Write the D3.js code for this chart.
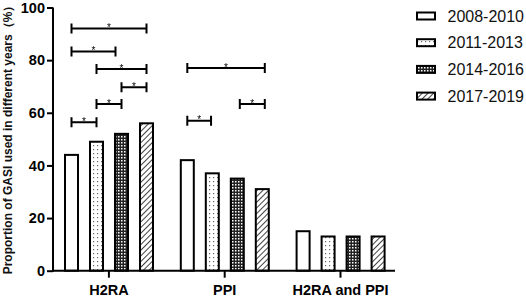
<!DOCTYPE html>
<html><head><meta charset="utf-8">
<script src="https://cdn.jsdelivr.net/npm/d3@7/dist/d3.min.js"></script>
<style>
html,body{margin:0;padding:0;background:#fff;}
svg{display:block;font-family:Arial,"Liberation Sans",sans-serif;}
.gray{filter:grayscale(1);}
</style></head>
<body><svg id="c" width="526" height="298"></svg>
<script>
const groups = ["H2RA", "PPI", "H2RA and PPI"];
const series = ["2008-2010", "2011-2013", "2014-2016", "2017-2019"];
const v2008 = [44, 42, 15];
const v2011 = [49, 37, 13];
const v2014 = [52, 35, 13];
const v2017 = [56, 31, 13];
const yTicks = [0, 20, 40, 60, 80, 100];
const yLabel = "Proportion of GASI used in different years（%）";
// significance brackets: group, from bar index, to bar index, height (value units)
const brGroup = ["H2RA","H2RA","H2RA","H2RA","H2RA","H2RA","PPI","PPI","PPI"];
const brFrom  = [0, 0, 1, 2, 1, 0, 0, 2.1, 0];
const brTo    = [3, 1.76, 3, 3, 2, 1, 3.1, 3.1, 0.95];
const brY     = [92, 83.3, 76.6, 69.7, 63.3, 56.4, 77, 63.3, 57];

const values = [v2008, v2011, v2014, v2017];
const svg = d3.select("#c");
const defs = svg.append("defs");
// patterns
const pDot = defs.append("pattern").attr("id","p1").attr("patternUnits","userSpaceOnUse").attr("width",4).attr("height",4);
pDot.append("rect").attr("width",4).attr("height",4).attr("fill","#fff");
pDot.append("rect").attr("x",1).attr("y",1).attr("width",1.2).attr("height",1.2).attr("fill","#666");
const pChk = defs.append("pattern").attr("id","p2").attr("patternUnits","userSpaceOnUse").attr("width",3).attr("height",3);
pChk.append("rect").attr("width",3).attr("height",3).attr("fill","#222");
pChk.append("rect").attr("x",1).attr("y",1).attr("width",1.5).attr("height",1.5).attr("fill","#fff");
const pHat = defs.append("pattern").attr("id","p3").attr("patternUnits","userSpaceOnUse").attr("width",4).attr("height",4).attr("patternTransform","rotate(45)");
pHat.append("rect").attr("width",4).attr("height",4).attr("fill","#fff");
pHat.append("line").attr("x1",0).attr("y1",0).attr("x2",0).attr("y2",4).attr("stroke","#111").attr("stroke-width",1.6);
const fills = ["#fff","url(#p1)","url(#p2)","url(#p3)"];

const y = d3.scaleLinear().domain([0,100]).range([270.7, 7.5]);
const x0 = d3.scaleBand().domain(groups).range([51, 398.4]);
const x1 = d3.scaleBand().domain(series).range([14, 102]).paddingInner(0.48);
const axisX = 53;

// bars
const data = [];
groups.forEach((g,gi)=>series.forEach((s,si)=>data.push({g,s,si,v:values[si][gi]})));
svg.append("g").selectAll("rect").data(data).join("rect")
  .attr("x", d=>x0(d.g)+x1(d.s))
  .attr("y", d=>y(d.v))
  .attr("width", x1.bandwidth())
  .attr("height", d=>y(0)-y(d.v))
  .attr("fill", d=>fills[d.si])
  .attr("stroke","#000").attr("stroke-width",2);

// y axis
const ya = svg.append("g").attr("transform",`translate(${axisX},0)`)
  .call(d3.axisLeft(y).tickValues(yTicks).tickSize(6).tickSizeOuter(0).tickPadding(2));
ya.select(".domain").attr("stroke-width",2).attr("d",`M0,${y(0)+1}V${y(100)}`);
ya.selectAll(".tick line").attr("stroke-width",2);
ya.selectAll(".tick text").attr("font-size",14.5).attr("font-weight","bold").attr("fill","#000").attr("font-family","Arial,'Liberation Sans',sans-serif");

// x axis
const xa = svg.append("g").attr("transform",`translate(0,${y(0)})`)
  .call(d3.axisBottom(x0).tickSize(7).tickSizeOuter(0).tickPadding(7));
xa.select(".domain").attr("stroke-width",2).attr("d",`M${axisX-1},0H395`);
xa.selectAll(".tick line").attr("stroke-width",2);
xa.selectAll(".tick text").attr("font-size",14.5).attr("font-weight","bold").attr("fill","#000").attr("font-family","Arial,'Liberation Sans',sans-serif");

// y label
svg.append("text").attr("transform",`translate(12,137) rotate(-90)`)
  .attr("text-anchor","middle").attr("font-size",12).attr("font-weight","bold").attr("fill","#111")
  .text(yLabel);

// brackets
const step = x1.step();
const c0 = x1(series[0]) + x1.bandwidth()/2;
const bg = svg.append("g").attr("class","gray");
brGroup.forEach((g,i)=>{
  const xa_ = x0(g)+c0+brFrom[i]*step, xb = x0(g)+c0+brTo[i]*step, yy = y(brY[i]);
  bg.append("path").attr("d",`M${xa_},${yy}H${xb}M${xa_},${yy-5}V${yy+5}M${xb},${yy-5}V${yy+5}`)
    .attr("stroke","#000").attr("stroke-width",2).attr("fill","none");
  bg.append("text").attr("x",(xa_+xb)/2).attr("y",yy+2.5).attr("text-anchor","middle")
    .attr("font-size",10).attr("fill","#000").text("*");
});

// legend
const lg = svg.append("g");
series.forEach((s,i)=>{
  const cy = 16 + i*26.7;
  lg.append("rect").attr("x",417).attr("y",cy-3.5).attr("width",18).attr("height",7)
    .attr("fill",fills[i]).attr("stroke","#000").attr("stroke-width",2);
  lg.append("text").attr("x",447.5).attr("y",cy+5.7).attr("font-size",16).attr("fill","#111").text(s);
});
</script></body></html>
